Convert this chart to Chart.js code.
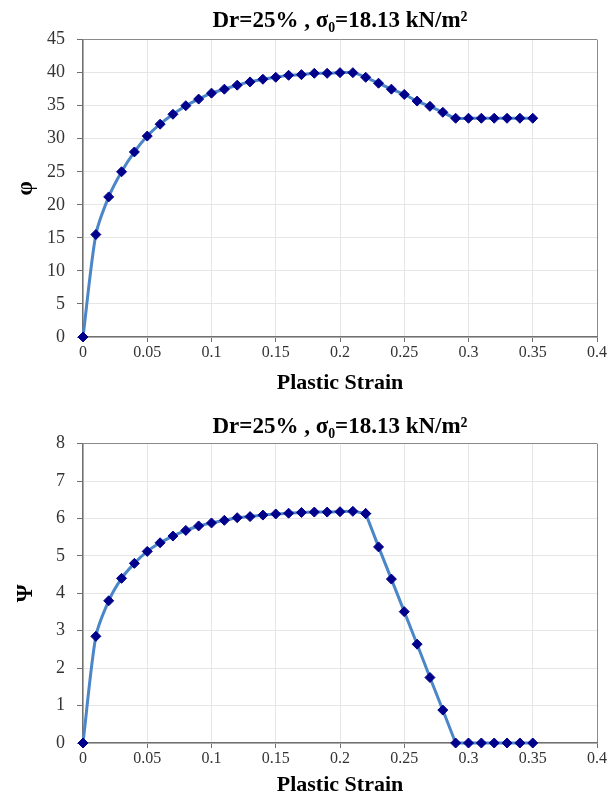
<!DOCTYPE html>
<html>
<head>
<meta charset="utf-8">
<script src="https://cdn.jsdelivr.net/npm/chart.js@4.4.1/dist/chart.umd.min.js"></script>
<style>
  html, body { margin: 0; padding: 0; background: #fff; }
  #wrapTop { position: absolute; left: 0; top: 0; width: 608px; height: 400px; }
  #wrapBot { position: absolute; left: 0; top: 400px; width: 608px; height: 403px; }
</style>
</head>
<body>
<div id="wrapTop"><canvas id="cTop" width="608" height="400"></canvas></div>
<div id="wrapBot"><canvas id="cBot" width="608" height="403"></canvas></div>
<script>
// ---- data ----
const strain = [0, 0.01, 0.02, 0.03, 0.04, 0.05, 0.06, 0.07, 0.08, 0.09,
                0.10, 0.11, 0.12, 0.13, 0.14, 0.15, 0.16, 0.17, 0.18, 0.19,
                0.20, 0.21, 0.22, 0.23, 0.24, 0.25, 0.26, 0.27, 0.28, 0.29,
                0.30, 0.31, 0.32, 0.33, 0.34, 0.35];
const phi = [0, 15.5, 21.2, 25.0, 28.0, 30.4, 32.2, 33.7, 35.0, 36.0,
             36.9, 37.5, 38.1, 38.6, 39.0, 39.3, 39.6, 39.7, 39.9, 39.9,
             40.0, 40.0, 39.3, 38.4, 37.5, 36.7, 35.7, 34.9, 34.0, 33.1,
             33.1, 33.1, 33.1, 33.1, 33.1, 33.1];
const psi = [0, 2.85, 3.80, 4.40, 4.80, 5.12, 5.35, 5.53, 5.68, 5.80,
             5.88, 5.95, 6.02, 6.05, 6.09, 6.12, 6.14, 6.16, 6.17, 6.17,
             6.18, 6.19, 6.13, 5.24, 4.38, 3.51, 2.64, 1.75, 0.88, 0,
             0, 0, 0, 0, 0, 0];
const xTickLabels = ["0", "0.05", "0.1", "0.15", "0.2", "0.25", "0.3", "0.35", "0.4"];
const phiTickLabels = ["0", "5", "10", "15", "20", "25", "30", "35", "40", "45"];
const psiTickLabels = ["0", "1", "2", "3", "4", "5", "6", "7", "8"];
const titleText = "Dr=25% , σ₀=18.13 kN/m²";
const xTitle = "Plastic Strain";

const SERIF = "'Liberation Serif', 'DejaVu Serif', serif";

function seriesStyle(tension) {
  return {
    showLine: true,
    borderColor: '#4a86c8',
    borderWidth: 3,
    tension: tension,
    pointStyle: 'rectRot',
    pointRadius: 5,
    pointBackgroundColor: '#00008b',
    pointBorderColor: '#00008b',
    pointBorderWidth: 1,
    clip: false
  };
}

function makeChart(id, yData, yMax, yLabels, yTitle, cfg) {
  const pts = strain.map((x, i) => ({ x: x, y: yData[i] }));
  let datasets;
  if (cfg.split != null) {
    datasets = [
      Object.assign({ data: pts.slice(0, cfg.split + 1) }, seriesStyle(0.25)),
      Object.assign({ data: pts.slice(cfg.split) }, seriesStyle(0))
    ];
  } else {
    datasets = [Object.assign({ data: pts }, seriesStyle(0.25))];
  }
  return new Chart(document.getElementById(id), {
    type: 'scatter',
    data: { datasets: datasets },
    options: {
      responsive: false,
      animation: false,
      devicePixelRatio: 1,
      layout: { padding: { left: 0, right: 10, top: 0, bottom: 0 } },
      plugins: {
        legend: { display: false },
        tooltip: { enabled: false },
        title: {
          display: true,
          fullSize: false,
          text: titleText,
          color: '#000',
          font: { family: SERIF, size: 23, weight: 'bold' },
          padding: { top: cfg.titleTop, bottom: cfg.titleBottom }
        }
      },
      scales: {
        x: {
          type: 'linear',
          min: 0, max: 0.4,
          afterBuildTicks: (s) => { s.ticks = xTickLabels.map(t => ({ value: parseFloat(t) })); },
          ticks: {
            color: '#333',
            font: { family: SERIF, size: 16 },
            padding: 1,
            maxRotation: 0,
            autoSkip: false,
            callback: (v, i) => xTickLabels[i]
          },
          grid: {
            color: (c) => (c.tick && Math.abs(c.tick.value - 0.4) < 1e-9) ? '#8a8a8a' : '#e6e6e6',
            lineWidth: 1,
            tickLength: 5,
            tickColor: '#707070'
          },
          border: { color: '#707070', width: 1.5 },
          title: {
            display: true,
            text: xTitle,
            color: '#000',
            font: { family: SERIF, size: 22, weight: 'bold' },
            padding: cfg.xTitlePad
          },
          afterFit: (s) => { s.height = cfg.xHeight; }
        },
        y: {
          type: 'linear',
          min: 0, max: yMax,
          afterBuildTicks: (s) => { s.ticks = yLabels.map(t => ({ value: parseFloat(t) })); },
          ticks: {
            color: '#333',
            font: { family: SERIF, size: 18 },
            padding: 12,
            autoSkip: false,
            callback: (v, i) => yLabels[i]
          },
          grid: {
            color: (c) => (c.tick && Math.abs(c.tick.value - yMax) < 1e-9) ? '#8a8a8a' : '#e6e6e6',
            lineWidth: 1,
            tickLength: 6,
            tickColor: '#707070'
          },
          border: { color: '#707070', width: 1.5 },
          title: {
            display: true,
            text: yTitle,
            color: '#000',
            font: { family: SERIF, size: 23, weight: 'bold' },
            padding: 12
          },
          afterFit: (s) => { s.width = 83; }
        }
      }
    }
  });
}

makeChart('cTop', phi, 45, phiTickLabels, 'φ',
  { titleTop: 7, titleBottom: 5, xHeight: 63, xTitlePad: 3, split: null });
makeChart('cBot', psi, 8, psiTickLabels, 'Ψ',
  { titleTop: 13, titleBottom: 3, xHeight: 60, xTitlePad: 4, split: 22 });
</script>
</body>
</html>
